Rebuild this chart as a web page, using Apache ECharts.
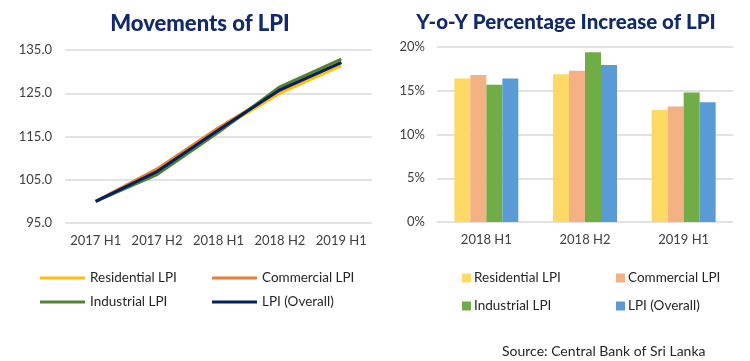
<!DOCTYPE html>
<html><head><meta charset="utf-8">
<script src="https://cdn.jsdelivr.net/npm/echarts@6/dist/echarts.min.js"></script>
<style>html,body{margin:0;padding:0;background:#fff}#c{width:750px;height:361px}</style>
</head><body><div id="c"></div>
<script>
const lineCategories = ['2017 H1','2017 H2','2018 H1','2018 H2','2019 H1'];
const residentialLPI = [100, 107.0, 116.5, 125.0, 131.4];
const commercialLPI  = [100, 107.5, 117.0, 125.6, 132.2];
const industrialLPI  = [100, 106.2, 116.0, 126.5, 132.9];
const overallLPI     = [100, 106.9, 116.5, 125.8, 132.1];
const lineTicks = [95, 105, 115, 125, 135];

const barCategories = ['2018 H1','2018 H2','2019 H1'];
const residentialYoY = [16.4, 16.9, 12.8];
const commercialYoY  = [16.8, 17.3, 13.2];
const industrialYoY  = [15.7, 19.4, 14.8];
const overallYoY     = [16.4, 17.95, 13.7];
const barTicks = [0, 5, 10, 15, 20];

const seriesNames = ['Residential LPI','Commercial LPI','Industrial LPI','LPI (Overall)'];
const lineColors = ['#FFC000','#ED7D31','#548235','#002060'];
const barColors = ['#FFD966','#F4B183','#70AD47','#5B9BD5'];

const FONT = 'Lato';
const txt = '#404040';
const legTxt = '#262626';
const chart = echarts.init(document.getElementById('c'));

const lineData = [residentialLPI, commercialLPI, industrialLPI, overallLPI];
const barData = [residentialYoY, commercialYoY, industrialYoY, overallYoY];

const series = [];
seriesNames.forEach((n, i) => {
  series.push({
    name: n, type: 'line', xAxisIndex: 0, yAxisIndex: 0,
    data: lineData[i], symbol: 'none', smooth: false,
    lineStyle: {width: 3, color: lineColors[i]}, itemStyle: {color: lineColors[i]},
    z: 2 + i
  });
});
seriesNames.forEach((n, i) => {
  series.push({
    name: 'bar_' + i, type: 'bar', xAxisIndex: 1, yAxisIndex: 1,
    data: barData[i], barWidth: 16, barGap: '0%',
    itemStyle: {color: barColors[i]}
  });
});

const legends = [];
const linePos = [[40, 279], [212, 279], [40, 303], [212, 303]];
const barPos = [[462, 279], [616, 279], [462, 307], [616, 307]];
seriesNames.forEach((n, i) => {
  legends.push({
    left: linePos[i][0], top: linePos[i][1] - 8, padding: 0,
    data: [{name: n, icon: 'rect'}], itemWidth: 45, itemHeight: 3, itemGap: 4,
    selectedMode: false,
    textStyle: {fontFamily: FONT, fontSize: 13.5, color: legTxt, padding: [0,0,0,0]}
  });
  legends.push({
    left: barPos[i][0], top: barPos[i][1] - 8, padding: 0,
    data: [{name: 'bar_' + i, icon: 'rect'}], itemWidth: 9, itemHeight: 9, itemGap: 4,
    selectedMode: false,
    formatter: () => seriesNames[i],
    textStyle: {fontFamily: FONT, fontSize: 13.5, color: legTxt, padding: [0,0,0,-2]}
  });
});

chart.setOption({
  animation: false,
  textStyle: {fontFamily: FONT},
  title: [
    {text: 'Movements of LPI', left: 195, top: 8, textAlign: 'center',
     textStyle: {fontFamily: FONT, fontWeight: 900, fontSize: 22, color: '#12296B'}},
    {text: 'Y-o-Y Percentage Increase of LPI', left: 561, top: 7, textAlign: 'center',
     textStyle: {fontFamily: FONT, fontWeight: 900, fontSize: 20.5, color: '#12296B'}},
    {text: 'Source: Central Bank of Sri Lanka', left: 497, top: 339,
     textStyle: {fontFamily: FONT, fontWeight: 'normal', fontSize: 14, color: legTxt}}
  ],
  legend: legends,
  grid: [
    {left: 65, top: 50, width: 307, height: 173},
    {left: 437, top: 47, width: 296, height: 175}
  ],
  xAxis: [
    {type: 'category', gridIndex: 0, data: lineCategories, boundaryGap: true,
     axisLine: {show: false}, axisTick: {show: false},
     axisLabel: {fontFamily: FONT, fontSize: 13, color: txt, margin: 11, interval: 0}},
    {type: 'category', gridIndex: 1, data: barCategories,
     axisLine: {show: false}, axisTick: {show: false},
     axisLabel: {fontFamily: FONT, fontSize: 13, color: txt, margin: 11, interval: 0}}
  ],
  yAxis: [
    {type: 'value', gridIndex: 0, min: lineTicks[0], max: lineTicks[lineTicks.length-1], interval: 10,
     axisLine: {show: false}, axisTick: {show: false},
     splitLine: {lineStyle: {color: '#D9D9D9', width: 1.5}},
     axisLabel: {fontFamily: FONT, fontSize: 13, color: txt, margin: 13, formatter: v => v.toFixed(1)}},
    {type: 'value', gridIndex: 1, min: barTicks[0], max: barTicks[barTicks.length-1], interval: 5,
     axisLine: {show: false}, axisTick: {show: false},
     splitLine: {lineStyle: {color: '#D9D9D9', width: 1.5}},
     axisLabel: {fontFamily: FONT, fontSize: 13, color: txt, margin: 12, formatter: '{value}%'}}
  ],
  series: series
});
</script></body></html>
